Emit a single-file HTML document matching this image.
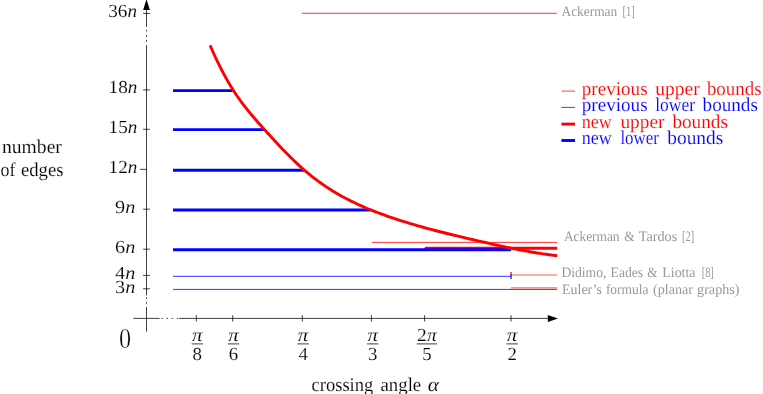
<!DOCTYPE html>
<html><head><meta charset="utf-8"><title>chart</title>
<style>
html,body{margin:0;padding:0;background:#fff;}
body{width:763px;height:394px;overflow:hidden;font-family:"Liberation Serif",serif;}
svg{display:block;will-change:transform;}
text{font-family:"Liberation Serif",serif;text-rendering:geometricPrecision;}
.i{font-style:italic;}
</style></head><body>
<svg width="763" height="394" viewBox="0 0 763 394">
<rect width="763" height="394" fill="#fff"/>

<g stroke="#000" stroke-width="0.75" fill="none">
<path d="M146.5 8 V26.8"/>
<path d="M146.5 29.8 V31.5 M146.5 35.1 V36.9 M146.5 40 V41.8"/>
<path d="M146.5 45.1 V295.4"/>
<path d="M146.5 297.2 V298.7 M146.5 302 V303.7"/>
<path d="M146.5 307.1 V331.7"/>
<path d="M133.3 318.4 H159.6"/>
<path d="M161.4 318.4 h1.4 M166.6 318.4 h1.4 M171.7 318.4 h1.4 M176.9 318.4 h1.4"/>
<path d="M179.2 318.4 H549"/>
<path d="M143.1 13.4 H149.9"/>
<path d="M143.1 89.9 H149.9"/>
<path d="M143.1 129.3 H149.9"/>
<path d="M139.9 169.3 H146.6"/>
<path d="M143.1 209.2 H149.9"/>
<path d="M143.1 249.2 H149.9"/>
<path d="M143.1 275.4 H149.9"/>
<path d="M143.1 288.8 H149.9"/>
<path d="M196.3 315.2 V321.5"/>
<path d="M232.7 315.2 V321.5"/>
<path d="M302.3 315.2 V321.5"/>
<path d="M371.4 315.2 V321.5"/>
<path d="M424.6 315.2 V321.5"/>
<path d="M511.0 315.2 V321.5"/>
</g>
<path d="M146.5 -0.9 L143.1 10 L149.9 10 Z" fill="#000"/>
<path d="M558.0 318.4 L547.8 314.9 L547.8 321.9 Z" fill="#000"/>
<g stroke="#0000ff" stroke-width="0.8" fill="none">
<path d="M173 276.3 H511"/>
<path d="M173 289.4 H557.1"/>
</g>
<g stroke="#ff9090" fill="none">
<path d="M511 274.9 H557.1" stroke-width="1.5"/>
<path d="M511 287.8 H557.1" stroke-width="1.7"/>
</g>
<path d="M511 272 V275.5" stroke="#ff0000" stroke-width="1.2"/>
<path d="M511 274.4 V279" stroke="#0000ff" stroke-width="1.2"/>
<g stroke="#ff0000" stroke-width="0.8" fill="none">
<path d="M301.8 13.3 H556.8"/>
<path d="M371.8 242.4 H557.1"/>
</g>
<path d="M424.8 248.3 H557.1" stroke="#ff0000" stroke-width="2.9" fill="none"/>
<g stroke="#0000ff" stroke-width="2.9" fill="none">
<path d="M173 90.6 H232.8"/>
<path d="M173 129.6 H264.4"/>
<path d="M173 170.2 H304.2"/>
<path d="M173 210.0 H370.8"/>
<path d="M173 249.8 H511"/>
</g>
<path d="M210.10 45.44 L213.10 52.25 L216.10 58.74 L219.10 64.91 L222.10 70.79 L225.10 76.38 L228.10 81.68 L231.10 86.70 L234.10 91.46 L237.10 95.96 L240.10 100.24 L243.10 104.31 L246.10 108.20 L249.10 111.94 L252.10 115.55 L255.10 119.04 L258.10 122.46 L261.10 125.81 L264.10 129.13 L267.10 132.44 L270.10 135.73 L273.10 139.00 L276.10 142.25 L279.10 145.46 L282.10 148.63 L285.10 151.75 L288.10 154.82 L291.10 157.82 L294.10 160.76 L297.10 163.61 L300.10 166.38 L303.10 169.06 L306.10 171.65 L309.10 174.13 L312.10 176.53 L315.10 178.85 L318.10 181.08 L321.10 183.24 L324.10 185.32 L327.10 187.34 L330.10 189.28 L333.10 191.15 L336.10 192.96 L339.10 194.70 L342.10 196.39 L345.10 198.01 L348.10 199.58 L351.10 201.10 L354.10 202.57 L357.10 203.99 L360.10 205.36 L363.10 206.69 L366.10 207.98 L369.10 209.23 L372.10 210.44 L375.10 211.62 L378.10 212.76 L381.10 213.88 L384.10 214.97 L387.10 216.04 L390.10 217.08 L393.10 218.10 L396.10 219.10 L399.10 220.08 L402.10 221.04 L405.10 221.98 L408.10 222.90 L411.10 223.81 L414.10 224.69 L417.10 225.56 L420.10 226.42 L423.10 227.26 L426.10 228.08 L429.10 228.89 L432.10 229.69 L435.10 230.48 L438.10 231.25 L441.10 232.02 L444.10 232.77 L447.10 233.52 L450.10 234.26 L453.10 234.99 L456.10 235.71 L459.10 236.43 L462.10 237.14 L465.10 237.84 L468.10 238.55 L471.10 239.25 L474.10 239.94 L477.10 240.64 L480.10 241.33 L483.10 242.02 L486.10 242.71 L489.10 243.39 L492.10 244.06 L495.10 244.73 L498.10 245.40 L501.10 246.05 L504.10 246.70 L507.10 247.33 L510.10 247.96 L513.10 248.57 L516.10 249.17 L519.10 249.76 L522.10 250.33 L525.10 250.89 L528.10 251.43 L531.10 251.96 L534.10 252.46 L537.10 252.95 L540.10 253.42 L543.10 253.87 L546.10 254.30 L549.10 254.71 L552.10 255.09 L555.10 255.45 L557.10 255.67" stroke="#ff0000" stroke-width="2.9" fill="none" stroke-linejoin="round"/>
<text x="108.3" y="17.4" font-size="18.4" textLength="28.7" lengthAdjust="spacingAndGlyphs" stroke="#fff" stroke-width="0.14">36<tspan class="i">n</tspan></text>
<text x="108.6" y="93.2" font-size="18.4" textLength="28.8" lengthAdjust="spacingAndGlyphs" stroke="#fff" stroke-width="0.14">18<tspan class="i">n</tspan></text>
<text x="108.6" y="133.0" font-size="18.4" textLength="28.8" lengthAdjust="spacingAndGlyphs" stroke="#fff" stroke-width="0.14">15<tspan class="i">n</tspan></text>
<text x="108.6" y="172.7" font-size="18.4" textLength="28.8" lengthAdjust="spacingAndGlyphs" stroke="#fff" stroke-width="0.14">12<tspan class="i">n</tspan></text>
<text x="115.0" y="212.9" font-size="18.4" textLength="20.3" lengthAdjust="spacingAndGlyphs" stroke="#fff" stroke-width="0.14">9<tspan class="i">n</tspan></text>
<text x="115.0" y="252.6" font-size="18.4" textLength="20.3" lengthAdjust="spacingAndGlyphs" stroke="#fff" stroke-width="0.14">6<tspan class="i">n</tspan></text>
<text x="115.0" y="279.0" font-size="18.4" textLength="20.3" lengthAdjust="spacingAndGlyphs" stroke="#fff" stroke-width="0.14">4<tspan class="i">n</tspan></text>
<text x="115.0" y="292.5" font-size="18.4" textLength="20.3" lengthAdjust="spacingAndGlyphs" stroke="#fff" stroke-width="0.14">3<tspan class="i">n</tspan></text>
<text x="192.0" y="340.6" font-size="18.4" textLength="10.6" lengthAdjust="spacingAndGlyphs" stroke="#fff" stroke-width="0.14"><tspan class="i">π</tspan></text>
<path d="M191.6 343.9 H203.0" stroke="#000" stroke-width="0.75"/>
<text x="192.6" y="360.0" font-size="18.4" textLength="9.4" lengthAdjust="spacingAndGlyphs" stroke="#fff" stroke-width="0.14">8</text>
<text x="228.2" y="340.6" font-size="18.4" textLength="10.6" lengthAdjust="spacingAndGlyphs" stroke="#fff" stroke-width="0.14"><tspan class="i">π</tspan></text>
<path d="M227.8 343.9 H239.2" stroke="#000" stroke-width="0.75"/>
<text x="228.8" y="360.0" font-size="18.4" textLength="9.4" lengthAdjust="spacingAndGlyphs" stroke="#fff" stroke-width="0.14">6</text>
<text x="297.8" y="340.6" font-size="18.4" textLength="10.6" lengthAdjust="spacingAndGlyphs" stroke="#fff" stroke-width="0.14"><tspan class="i">π</tspan></text>
<path d="M297.4 343.9 H308.8" stroke="#000" stroke-width="0.75"/>
<text x="298.4" y="360.0" font-size="18.4" textLength="9.4" lengthAdjust="spacingAndGlyphs" stroke="#fff" stroke-width="0.14">4</text>
<text x="367.4" y="340.6" font-size="18.4" textLength="10.6" lengthAdjust="spacingAndGlyphs" stroke="#fff" stroke-width="0.14"><tspan class="i">π</tspan></text>
<path d="M367.0 343.9 H378.4" stroke="#000" stroke-width="0.75"/>
<text x="368.0" y="360.0" font-size="18.4" textLength="9.4" lengthAdjust="spacingAndGlyphs" stroke="#fff" stroke-width="0.14">3</text>
<text x="417.1" y="340.6" font-size="18.4" textLength="19.6" lengthAdjust="spacingAndGlyphs" stroke="#fff" stroke-width="0.14">2<tspan class="i">π</tspan></text>
<path d="M416.8 343.9 H437.0" stroke="#000" stroke-width="0.75"/>
<text x="422.2" y="360.0" font-size="18.4" textLength="9.4" lengthAdjust="spacingAndGlyphs" stroke="#fff" stroke-width="0.14">5</text>
<text x="506.8" y="340.6" font-size="18.4" textLength="10.6" lengthAdjust="spacingAndGlyphs" stroke="#fff" stroke-width="0.14"><tspan class="i">π</tspan></text>
<path d="M506.4 343.9 H517.8" stroke="#000" stroke-width="0.75"/>
<text x="507.4" y="360.0" font-size="18.4" textLength="9.4" lengthAdjust="spacingAndGlyphs" stroke="#fff" stroke-width="0.14">2</text>
<text x="119.1" y="347.9" font-size="28.6" textLength="12.1" lengthAdjust="spacingAndGlyphs" stroke="#fff" stroke-width="0.45">0</text>
<text x="2.0" y="152.8" font-size="19.4" fill="#000" textLength="59.9" lengthAdjust="spacingAndGlyphs" stroke="#fff" stroke-width="0.14">number</text>
<text x="0.6" y="175.7" font-size="19.4" fill="#000" textLength="14.9" lengthAdjust="spacingAndGlyphs" stroke="#fff" stroke-width="0.14">of</text>
<text x="21.0" y="175.7" font-size="19.4" fill="#000" textLength="42.5" lengthAdjust="spacingAndGlyphs" stroke="#fff" stroke-width="0.14">edges</text>
<text x="311.5" y="390.7" font-size="19.4" fill="#000" textLength="61.8" lengthAdjust="spacingAndGlyphs" stroke="#fff" stroke-width="0.14">crossing</text>
<text x="380.5" y="390.7" font-size="19.4" fill="#000" textLength="40.7" lengthAdjust="spacingAndGlyphs" stroke="#fff" stroke-width="0.14">angle</text>
<text x="427.7" y="390.7" font-size="19.4" fill="#000" textLength="11.2" lengthAdjust="spacingAndGlyphs" stroke="#fff" stroke-width="0.14"><tspan class="i">α</tspan></text>
<path d="M561.4 91.1 H575.0" stroke="#ff0000" stroke-width="0.75"/>
<text x="581.8" y="94.6" font-size="19.4" fill="#ff0000" textLength="65.8" lengthAdjust="spacingAndGlyphs" stroke="#fff" stroke-width="0.14">previous</text>
<text x="655.2" y="94.6" font-size="19.4" fill="#ff0000" textLength="44.5" lengthAdjust="spacingAndGlyphs" stroke="#fff" stroke-width="0.14">upper</text>
<text x="706.9" y="94.6" font-size="19.4" fill="#ff0000" textLength="54.6" lengthAdjust="spacingAndGlyphs" stroke="#fff" stroke-width="0.14">bounds</text>
<path d="M561.4 107.4 H575.0" stroke="#0000ff" stroke-width="0.75"/>
<text x="581.8" y="110.9" font-size="19.4" fill="#0000ff" textLength="65.8" lengthAdjust="spacingAndGlyphs" stroke="#fff" stroke-width="0.14">previous</text>
<text x="655.2" y="110.9" font-size="19.4" fill="#0000ff" textLength="39.9" lengthAdjust="spacingAndGlyphs" stroke="#fff" stroke-width="0.14">lower</text>
<text x="702.6" y="110.9" font-size="19.4" fill="#0000ff" textLength="55.3" lengthAdjust="spacingAndGlyphs" stroke="#fff" stroke-width="0.14">bounds</text>
<path d="M561.4 124.1 H575.0" stroke="#ff0000" stroke-width="2.90"/>
<text x="581.8" y="127.6" font-size="19.4" fill="#ff0000" textLength="30.1" lengthAdjust="spacingAndGlyphs" stroke="#fff" stroke-width="0.14">new</text>
<text x="620.4" y="127.6" font-size="19.4" fill="#ff0000" textLength="44.1" lengthAdjust="spacingAndGlyphs" stroke="#fff" stroke-width="0.14">upper</text>
<text x="672.4" y="127.6" font-size="19.4" fill="#ff0000" textLength="55.5" lengthAdjust="spacingAndGlyphs" stroke="#fff" stroke-width="0.14">bounds</text>
<path d="M561.4 140.5 H575.0" stroke="#0000ff" stroke-width="2.90"/>
<text x="581.8" y="144.0" font-size="19.4" fill="#0000ff" textLength="30.1" lengthAdjust="spacingAndGlyphs" stroke="#fff" stroke-width="0.14">new</text>
<text x="620.4" y="144.0" font-size="19.4" fill="#0000ff" textLength="38.5" lengthAdjust="spacingAndGlyphs" stroke="#fff" stroke-width="0.14">lower</text>
<text x="667.3" y="144.0" font-size="19.4" fill="#0000ff" textLength="56.0" lengthAdjust="spacingAndGlyphs" stroke="#fff" stroke-width="0.14">bounds</text>
<text x="561.5" y="16.1" font-size="14.4" fill="#989898" textLength="55.7" lengthAdjust="spacingAndGlyphs" >Ackerman</text>
<text x="622.4" y="16.1" font-size="14.4" fill="#989898" textLength="12.4" lengthAdjust="spacingAndGlyphs" >[1]</text>
<text x="564.0" y="240.9" font-size="14.4" fill="#989898" textLength="55.5" lengthAdjust="spacingAndGlyphs" >Ackerman</text>
<text x="624.3" y="240.9" font-size="14.4" fill="#989898" textLength="10.4" lengthAdjust="spacingAndGlyphs" >&amp;</text>
<text x="638.7" y="240.9" font-size="14.4" fill="#989898" textLength="38.5" lengthAdjust="spacingAndGlyphs" >Tardos</text>
<text x="682.0" y="240.9" font-size="14.4" fill="#989898" textLength="12.1" lengthAdjust="spacingAndGlyphs" >[2]</text>
<text x="561.4" y="276.7" font-size="14.4" fill="#989898" textLength="45.0" lengthAdjust="spacingAndGlyphs" >Didimo,</text>
<text x="610.6" y="276.7" font-size="14.4" fill="#989898" textLength="32.5" lengthAdjust="spacingAndGlyphs" >Eades</text>
<text x="647.3" y="276.7" font-size="14.4" fill="#989898" textLength="10.2" lengthAdjust="spacingAndGlyphs" >&amp;</text>
<text x="662.3" y="276.7" font-size="14.4" fill="#989898" textLength="33.2" lengthAdjust="spacingAndGlyphs" >Liotta</text>
<text x="701.7" y="276.7" font-size="14.4" fill="#989898" textLength="12.1" lengthAdjust="spacingAndGlyphs" >[8]</text>
<text x="562.1" y="293.8" font-size="14.4" fill="#989898" textLength="39.9" lengthAdjust="spacingAndGlyphs" >Euler’s</text>
<text x="605.9" y="293.8" font-size="14.4" fill="#989898" textLength="42.5" lengthAdjust="spacingAndGlyphs" >formula</text>
<text x="653.1" y="293.8" font-size="14.4" fill="#989898" textLength="39.8" lengthAdjust="spacingAndGlyphs" >(planar</text>
<text x="697.1" y="293.8" font-size="14.4" fill="#989898" textLength="42.4" lengthAdjust="spacingAndGlyphs" >graphs)</text>
</svg></body></html>
